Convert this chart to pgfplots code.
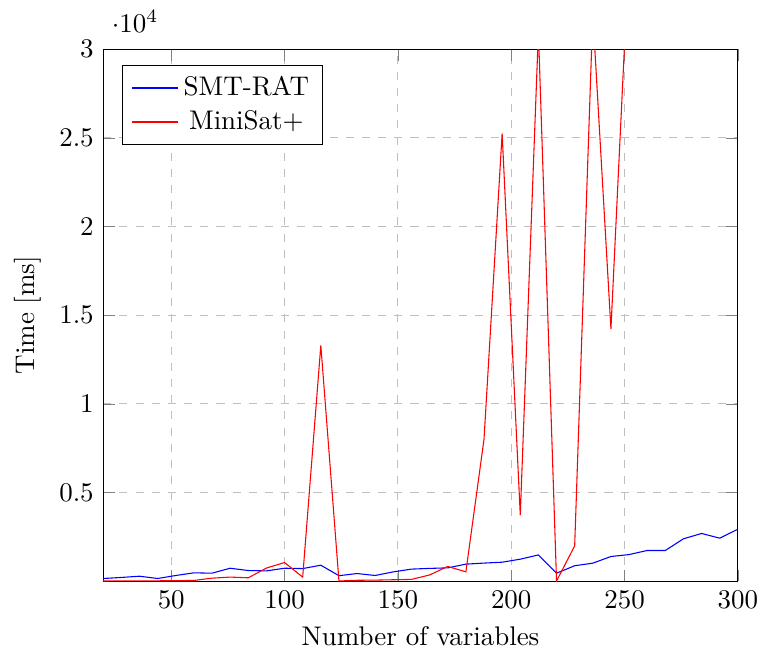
\documentclass[border={1.8pt 0pt -1.5pt 4pt}]{standalone}
\usepackage{pgfplots}
\pgfplotsset{compat=1.18}
\definecolor{myblue}{RGB}{0,0,255}
\definecolor{myred}{RGB}{255,0,0}
\begin{document}
\begin{tikzpicture}
\begin{axis}[
  scale only axis,
  width=235.5pt, height=197.4pt,
  xmin=20, xmax=300, ymin=0, ymax=30000,
  xtick={50,100,150,200,250,300},
  ytick={5000,10000,15000,20000,25000,30000},
  grid=major,
  major grid style={dashed, gray!50},
  xlabel={Number of variables},
  ylabel={Time [ms]},
  legend pos=north west,
  legend cell align=center,
]
\addlegendimage{draw=myblue, line width=0.5pt}
\addlegendentry{SMT-RAT}
\addlegendimage{draw=myred, line width=0.5pt}
\addlegendentry{MiniSat+}
\addplot[myblue, mark=none, forget plot] coordinates {
(20,150) (28,210) (36,280) (44,150) (52,320) (60,470) (68,450) (76,730)
(84,600) (92,580) (100,730) (108,710) (116,900) (124,310) (132,430) (140,320)
(148,525) (156,680) (164,720) (172,750) (180,960) (188,1020) (196,1070) (204,1240)
(212,1480) (220,450) (228,870) (236,1015) (244,1390) (252,1500) (260,1730) (268,1730)
(276,2390) (284,2690) (292,2425) (300,2930)
};
\addplot[myred, mark=none, forget plot] coordinates {
(20,10) (28,15) (36,20) (44,20) (52,30) (60,40) (68,170) (76,230)
(84,190) (92,740) (100,1050) (108,230) (116,13300) (124,10) (132,50) (140,60)
(148,80) (156,100) (164,350) (172,830) (180,525) (188,8000) (196,25250) (204,3720)
(212,31000) (220,10) (228,1990) (236,32000) (244,14220) (252,35600)
};
\end{axis}
\end{tikzpicture}
\end{document}
